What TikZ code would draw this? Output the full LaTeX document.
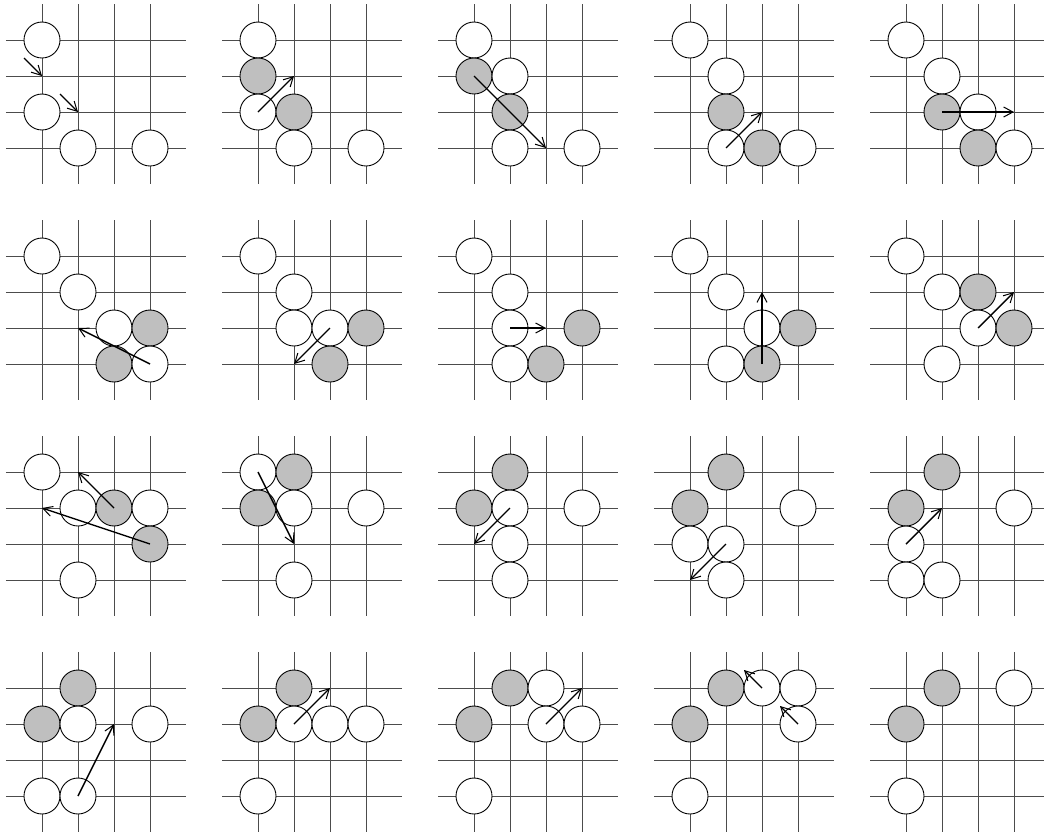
\documentclass[tikz,border=0pt]{standalone}
\usetikzlibrary{arrows.meta}
\tikzset{
  gridline/.style={draw=black!70, line width=0.75pt},
  stonebase/.style={circle, draw=black, line width=0.7pt, minimum size=1cm, inner sep=0pt},
  wst/.style={stonebase, fill=white},
  gst/.style={stonebase, fill=black!25},
  mv/.style={draw=black, line width=1.1pt, -{Straight Barb[length=2.6mm,width=2.8mm,line width=0.8pt]}},
}
\newcommand\gridb{\foreach \k in {0,...,3}{\draw[gridline] (-1,\k) -- (4,\k); \draw[gridline] (\k,-1) -- (\k,4);}}
\newcommand\ws[2]{\node[wst] (s#1#2) at (#1,#2) {};}
\newcommand\gs[2]{\node[gst] (s#1#2) at (#1,#2) {};}
\newcommand\tg[3]{\coordinate (#1) at (#2,#3);}
\begin{document}
\begin{tikzpicture}[x=1cm,y=-1cm]
\useasboundingbox (0,0) rectangle (29,23.1389);
\clip (0,0) rectangle (29,23.1389);
% Row 0
\begin{scope}[shift={(7/6,10/9)}, name prefix=b00-]
\gridb
\ws00 \ws02 \ws13 \ws33
\tg{a1}{-0.5}{0.5} \tg{t1}{0}{1} \tg{a2}{0.5}{1.5} \tg{t2}{1}{2}
\draw[mv] (a1) -- (t1); \draw[mv] (a2) -- (t2);
\end{scope}
\begin{scope}[shift={(7/6+6,10/9)}, name prefix=b10-]
\gridb
\ws00 \gs01 \ws02 \gs12 \ws13 \ws33
\tg{t}{1}{1} \draw[mv] (s02.center) -- (t);
\end{scope}
\begin{scope}[shift={(7/6+12,10/9)}, name prefix=b20-]
\gridb
\ws00 \gs01 \ws11 \gs12 \ws13 \ws33
\tg{t}{2}{3} \draw[mv] (s01.center) -- (t);
\end{scope}
\begin{scope}[shift={(7/6+18,10/9)}, name prefix=b30-]
\gridb
\ws00 \ws11 \gs12 \ws13 \gs23 \ws33
\tg{t}{2}{2} \draw[mv] (s13.center) -- (t);
\end{scope}
\begin{scope}[shift={(7/6+24,10/9)}, name prefix=b40-]
\gridb
\ws00 \ws11 \gs12 \ws22 \gs23 \ws33
\tg{t}{3}{2} \draw[mv] (s12.center) -- (t);
\end{scope}
% Row 1
\begin{scope}[shift={(7/6,10/9+6)}, name prefix=b01-]
\gridb
\ws00 \ws11 \ws22 \gs32 \gs23 \ws33
\tg{t}{1}{2} \draw[mv] (s33.center) -- (t);
\end{scope}
\begin{scope}[shift={(7/6+6,10/9+6)}, name prefix=b11-]
\gridb
\ws00 \ws11 \ws12 \ws22 \gs32 \gs23
\tg{t}{1}{3} \draw[mv] (s22.center) -- (t);
\end{scope}
\begin{scope}[shift={(7/6+12,10/9+6)}, name prefix=b21-]
\gridb
\ws00 \ws11 \ws12 \gs32 \ws13 \gs23
\tg{t}{2}{2} \draw[mv] (s12.center) -- (t);
\end{scope}
\begin{scope}[shift={(7/6+18,10/9+6)}, name prefix=b31-]
\gridb
\ws00 \ws11 \ws22 \gs32 \ws13 \gs23
\tg{t}{2}{1} \draw[mv] (s23.center) -- (t);
\end{scope}
\begin{scope}[shift={(7/6+24,10/9+6)}, name prefix=b41-]
\gridb
\ws00 \ws11 \gs21 \ws22 \gs32 \ws13
\tg{t}{3}{1} \draw[mv] (s22.center) -- (t);
\end{scope}
% Row 2
\begin{scope}[shift={(7/6,10/9+12)}, name prefix=b02-]
\gridb
\ws00 \ws11 \gs21 \ws31 \gs32 \ws13
\tg{t1}{1}{0} \tg{t2}{0}{1}
\draw[mv] (s21.center) -- (t1); \draw[mv] (s32.center) -- (t2);
\end{scope}
\begin{scope}[shift={(7/6+6,10/9+12)}, name prefix=b12-]
\gridb
\ws00 \gs10 \gs01 \ws11 \ws31 \ws13
\tg{t}{1}{2} \draw[mv] (s00.center) -- (t);
\end{scope}
\begin{scope}[shift={(7/6+12,10/9+12)}, name prefix=b22-]
\gridb
\gs10 \gs01 \ws11 \ws31 \ws12 \ws13
\tg{t}{0}{2} \draw[mv] (s11.center) -- (t);
\end{scope}
\begin{scope}[shift={(7/6+18,10/9+12)}, name prefix=b32-]
\gridb
\gs10 \gs01 \ws31 \ws02 \ws12 \ws13
\tg{t}{0}{3} \draw[mv] (s12.center) -- (t);
\end{scope}
\begin{scope}[shift={(7/6+24,10/9+12)}, name prefix=b42-]
\gridb
\gs10 \gs01 \ws31 \ws02 \ws03 \ws13
\tg{t}{1}{1} \draw[mv] (s02.center) -- (t);
\end{scope}
% Row 3
\begin{scope}[shift={(7/6,10/9+18)}, name prefix=b03-]
\gridb
\gs10 \gs01 \ws11 \ws31 \ws03 \ws13
\tg{t}{2}{1} \draw[mv] (s13.center) -- (t);
\end{scope}
\begin{scope}[shift={(7/6+6,10/9+18)}, name prefix=b13-]
\gridb
\gs10 \gs01 \ws11 \ws21 \ws31 \ws03
\tg{t}{2}{0} \draw[mv] (s11.center) -- (t);
\end{scope}
\begin{scope}[shift={(7/6+12,10/9+18)}, name prefix=b23-]
\gridb
\gs10 \ws20 \gs01 \ws21 \ws31 \ws03
\tg{t}{3}{0} \draw[mv] (s21.center) -- (t);
\end{scope}
\begin{scope}[shift={(7/6+18,10/9+18)}, name prefix=b33-]
\gridb
\gs10 \ws20 \ws30 \gs01 \ws31 \ws03
\tg{t1}{1.5}{-0.5} \tg{t2}{2.5}{0.5}
\draw[mv] (s20.center) -- (t1); \draw[mv] (s31.center) -- (t2);
\end{scope}
\begin{scope}[shift={(7/6+24,10/9+18)}, name prefix=b43-]
\gridb
\gs10 \ws30 \gs01 \ws03
\end{scope}
\end{tikzpicture}
\end{document}
